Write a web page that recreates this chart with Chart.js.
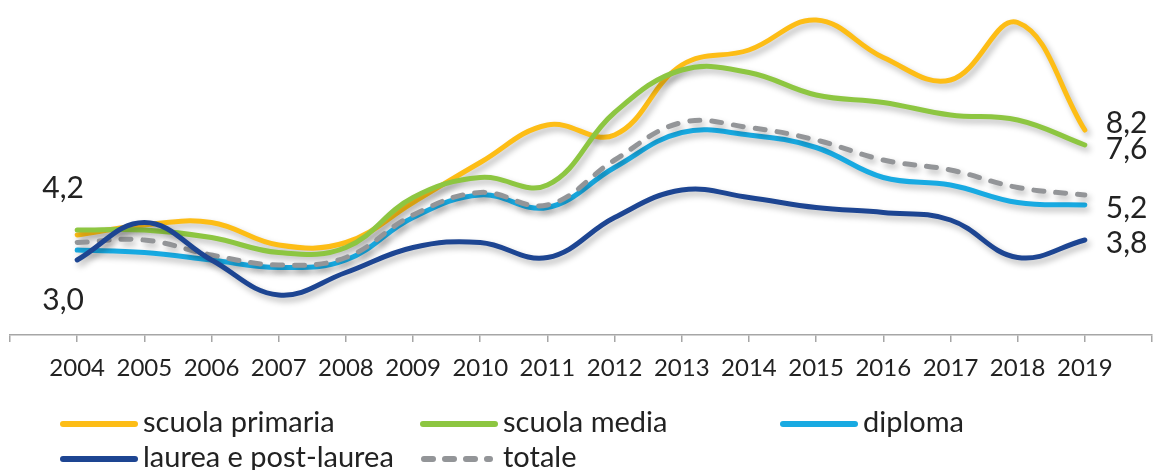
<!DOCTYPE html>
<html>
<head>
<meta charset="utf-8">
<script src="https://cdn.jsdelivr.net/npm/chart.js@4/dist/chart.umd.min.js"></script>
<style>
    html, body { margin: 0; padding: 0; background: #fff; }
    #chart { display: block; }
</style>
</head>
<body>
<canvas id="chart" width="1156" height="470"></canvas>
<script>
// Data
const years = ['2004', '2005', '2006', '2007', '2008', '2009', '2010', '2011',
               '2012', '2013', '2014', '2015', '2016', '2017', '2018', '2019'];
const primaria = [4.0, 4.4, 4.5, 3.6, 3.7, 5.3, 6.9, 8.4, 8.0, 10.8, 11.4, 12.6, 11.1, 10.2, 12.5, 8.2];
const media    = [4.2, 4.2, 3.9, 3.3, 3.5, 5.5, 6.3, 6.0, 8.9, 10.6, 10.5, 9.6, 9.3, 8.8, 8.6, 7.6];
const diploma  = [3.4, 3.3, 3.0, 2.7, 3.0, 4.7, 5.6, 5.1, 6.7, 8.1, 8.0, 7.5, 6.3, 6.0, 5.3, 5.2];
const laurea   = [3.0, 4.5, 3.0, 1.6, 2.5, 3.5, 3.7, 3.1, 4.7, 5.8, 5.5, 5.1, 4.9, 4.6, 3.1, 3.8];
const totale   = [3.7, 3.8, 3.2, 2.8, 3.1, 4.8, 5.7, 5.2, 7.0, 8.5, 8.3, 7.8, 7.0, 6.6, 5.9, 5.6];

const seriesNames = ['scuola primaria', 'scuola media', 'diploma', 'laurea e post-laurea', 'totale'];
const seriesColors = ['#FDBD16', '#8DC641', '#18AAE2', '#1D4592', '#939598'];

const FONT = 'Lato';

// one empty category on each side, like the original axis
const axisLabels = [''].concat(years, ['']);
function pad(arr) {
    return [null].concat(arr, [null]);
}

function fmt(v) {
    return v.toFixed(1).replace('.', ',');
}

// Shadow under each line
const shadowPlugin = {
    id: 'lineShadow',
    beforeDatasetDraw(chart) {
        const ctx = chart.ctx;
        ctx.save();
        ctx.shadowColor = 'rgba(0, 0, 0, 0.28)';
        ctx.shadowBlur = 6;
        ctx.shadowOffsetX = 3;
        ctx.shadowOffsetY = 4;
    },
    afterDatasetDraw(chart) {
        chart.ctx.restore();
    }
};

// Value labels at the start and end of the lines
const valueLabels = {
    id: 'valueLabels',
    afterDatasetsDraw(chart) {
        const ctx = chart.ctx;
        ctx.save();
        ctx.font = '30px ' + FONT;
        ctx.fillStyle = '#222';
        ctx.textBaseline = 'middle';

        // start values (scuola media above, laurea below)
        const first = 1;
        const mStart = chart.getDatasetMeta(1).data[first];
        const lStart = chart.getDatasetMeta(3).data[first];
        ctx.textAlign = 'center';
        ctx.fillText(fmt(media[0]), mStart.x - 14, mStart.y - 42);
        ctx.fillText(fmt(laurea[0]), lStart.x - 14, lStart.y + 40);

        // end values
        const last = years.length;
        const ends = [[0, primaria, -7], [1, media, 4], [2, diploma, 3], [3, laurea, 3]];
        ctx.textAlign = 'left';
        ends.forEach(function(e) {
            const pt = chart.getDatasetMeta(e[0]).data[last];
            ctx.fillText(fmt(e[1][e[1].length - 1]), pt.x + 21, pt.y + e[2]);
        });
        ctx.restore();
    }
};

// Legend in three columns, two rows
const legendPlugin = {
    id: 'gridLegend',
    afterDraw(chart) {
        const ctx = chart.ctx;
        ctx.save();
        ctx.font = '29px ' + FONT;
        ctx.fillStyle = '#222';
        ctx.textBaseline = 'middle';
        ctx.textAlign = 'left';
        const cols = [60, 420, 780];
        const rows = [424, 459];
        seriesNames.forEach(function(name, i) {
            const x = cols[i % 3];
            const y = rows[Math.floor(i / 3)];
            ctx.strokeStyle = seriesColors[i];
            ctx.lineWidth = 6;
            ctx.lineCap = 'round';
            if (i === 4) {
                ctx.setLineDash([9, 12]);
                ctx.beginPath();
                ctx.moveTo(x + 4, y);
                ctx.lineTo(x + 70, y);
                ctx.stroke();
                ctx.setLineDash([]);
            } else {
                ctx.beginPath();
                ctx.moveTo(x + 3, y);
                ctx.lineTo(x + 75, y);
                ctx.stroke();
            }
            ctx.fillText(name, x + 83, y - 1);
        });
        ctx.restore();
    }
};

const allSeries = [primaria, media, diploma, laurea, totale];
const drawOrder = [4, 3, 2, 0, 1];

const datasets = allSeries.map(function(values, i) {
    return {
        label: seriesNames[i],
        data: pad(values),
        borderColor: seriesColors[i],
        backgroundColor: seriesColors[i],
        borderWidth: 5,
        borderCapStyle: 'round',
        borderJoinStyle: 'round',
        borderDash: i === 4 ? [10, 12] : [],
        tension: 0.4,
        pointRadius: 0,
        fill: false,
        order: drawOrder[i]
    };
});

new Chart(document.getElementById('chart'), {
    type: 'line',
    data: {
        labels: axisLabels,
        datasets: datasets
    },
    options: {
        responsive: false,
        animation: false,
        layout: {
            padding: { top: 5, left: 10, right: 4, bottom: 75 }
        },
        plugins: {
            legend: { display: false },
            tooltip: { enabled: false }
        },
        scales: {
            x: {
                offset: false,
                afterFit(scale) {
                    // fixed axis band, no extra side padding
                    scale.height = 60;
                    scale.paddingLeft = 0;
                    scale.paddingRight = 0;
                },
                grid: {
                    drawOnChartArea: false,
                    drawTicks: true,
                    tickLength: 7,
                    color: '#A6A6A6',
                    lineWidth: 1.5
                },
                border: { color: '#A6A6A6', width: 1.5 },
                ticks: {
                    autoSkip: false,
                    maxRotation: 0,
                    padding: 12,
                    color: '#222',
                    font: { family: FONT, size: 24 }
                }
            },
            y: {
                display: false,
                min: 0,
                max: 13.2
            }
        }
    },
    plugins: [shadowPlugin, valueLabels, legendPlugin]
});
</script>
</body>
</html>
